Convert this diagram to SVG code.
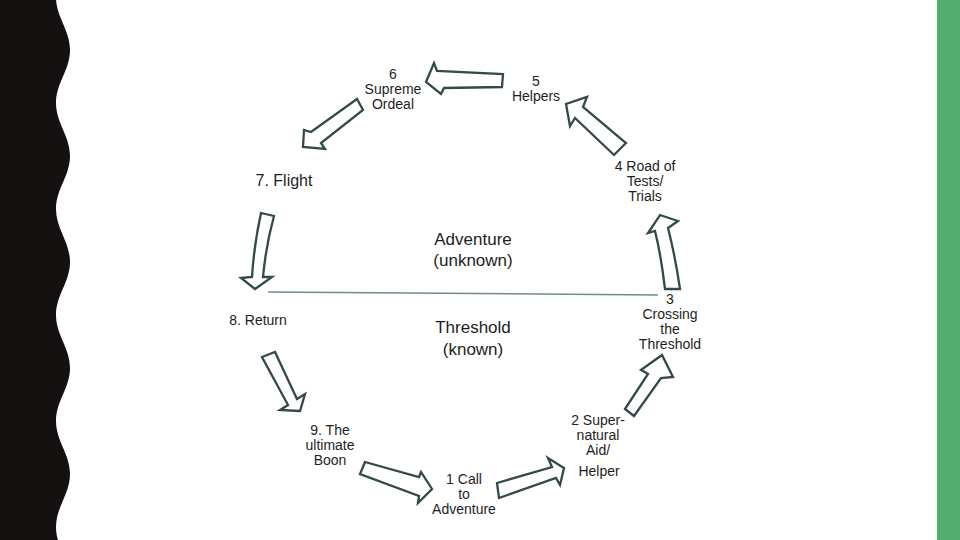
<svg xmlns="http://www.w3.org/2000/svg" width="960" height="540" viewBox="0 0 960 540">
<style>
.lbl{font-family:"Liberation Sans",Arial,sans-serif;font-size:14px;fill:#1e1e1e;text-anchor:middle}
.big{font-size:17px}
.arr{fill:#ffffff;stroke:#34494b;stroke-width:2.3;stroke-linejoin:miter}
</style>
<rect x="0" y="0" width="960" height="540" fill="#ffffff"/>
<path d="M0,-10 L56,-10 L56,-3 C56,17 70,30 70,50 C70,70 56,83 56,103 C56,123 70,136 70,156 C70,176 56,189 56,209 C56,229 70,242 70,262 C70,282 56,295 56,315 C56,335 70,348 70,368 C70,388 56,401 56,421 C56,441 70,454 70,474 C70,494 56,507 56,527 C56,547 70,560 70,580 L0,580 Z" fill="#141110"/>
<rect x="937" y="0" width="23" height="540" fill="#56ad70"/>
<line x1="268" y1="292" x2="658" y2="295" stroke="#6f8f80" stroke-width="1.5"/>
<g id="connectors">
<polygon class="arr" points="503,74 502,87 444,88 441,94 426,82 434,63 437,71"/>
<polygon class="arr" points="357,99 363,110 321,143 325,149 303,147 304,130 311,132"/>
<path class="arr" d="M261,213 L274,216 Q266,245 263,277 L272,277 L255,289 L241,278 L252,277 Q254,245 261,213 Z"/>
<polygon class="arr" points="262,357 275,352 297,399 305,394 300,411 280,410 288,405"/>
<polygon class="arr" points="365,462 419,477 421,472 432,489 418,503 419,496 360,474"/>
<polygon class="arr" points="497,483 552,467 548,458 564,468 560,485 556,478 499,498"/>
<polygon class="arr" points="625,409 648,374 641,370 662,355 673,377 661,378 634,416"/>
<path class="arr" d="M665,289 Q661,255 655,231 L648,233 L660,215 L678,221 L668,228 Q675,255 680,289 Z"/>
<polygon class="arr" points="626,143 614,155 575,118 570,126 566,104 587,97 583,107"/>
</g>
<g id="n1"><text class="lbl"><tspan x="464" y="484">1 Call</tspan><tspan x="464" y="499">to</tspan><tspan x="464" y="514">Adventure</tspan></text></g>
<g id="n2"><text class="lbl"><tspan x="598" y="425">2 Super-</tspan><tspan x="598" y="440">natural</tspan><tspan x="598" y="455">Aid/</tspan><tspan x="599" y="476">Helper</tspan></text></g>
<g id="n3"><text class="lbl"><tspan x="670" y="304">3</tspan><tspan x="670" y="319">Crossing</tspan><tspan x="670" y="334">the</tspan><tspan x="670" y="349">Threshold</tspan></text></g>
<g id="n4"><text class="lbl"><tspan x="645" y="171">4 Road of</tspan><tspan x="645" y="186">Tests/</tspan><tspan x="645" y="201">Trials</tspan></text></g>
<g id="n5"><text class="lbl"><tspan x="536" y="86">5</tspan><tspan x="536" y="101">Helpers</tspan></text></g>
<g id="n6"><text class="lbl"><tspan x="393" y="79">6</tspan><tspan x="393" y="94">Supreme</tspan><tspan x="393" y="109">Ordeal</tspan></text></g>
<g id="n7"><text class="lbl" style="font-size:16px" x="284" y="186">7. Flight</text></g>
<g id="n8"><text class="lbl" x="258" y="325">8. Return</text></g>
<g id="n9"><text class="lbl"><tspan x="330" y="435">9. The</tspan><tspan x="330" y="450">ultimate</tspan><tspan x="330" y="465">Boon</tspan></text></g>
<g id="adventure"><text class="lbl big"><tspan x="473" y="245">Adventure</tspan><tspan x="473" y="266">(unknown)</tspan></text></g>
<g id="threshold"><text class="lbl big"><tspan x="473" y="333">Threshold</tspan><tspan x="473" y="355">(known)</tspan></text></g>
</svg>
